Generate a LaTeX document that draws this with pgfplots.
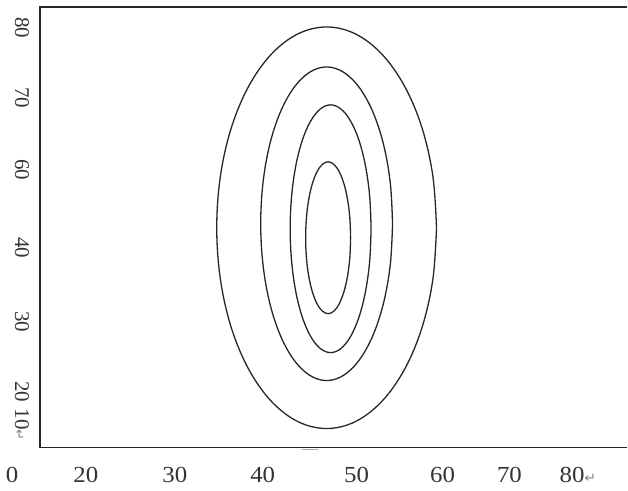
\documentclass[border=0pt]{standalone}
\usepackage{pgfplots}
\pgfplotsset{compat=1.18}
\usepackage{fontspec}
\setmainfont{Liberation Serif}
\newfontfamily\dejavu{DejaVu Sans}
\newcommand{\ret}{{\dejavu\fontsize{13}{13}\selectfont\color{gray}↵}}
\begin{document}
\begin{tikzpicture}
\begin{axis}[
  x=1pt, y=1pt,
  xmin=40, xmax=628, ymin=43, ymax=484,
  axis line style={draw=none},
  xtick=\empty, ytick=\empty,
  clip=false,
  scale only axis,
]
% frame (left, top, bottom)
\draw[line width=1.4pt, black!85] (axis cs:628,484) -- (axis cs:40,484) -- (axis cs:40,43) -- (axis cs:628,43);
\draw[line width=1pt, black!35] (axis cs:302,41) -- (axis cs:318,41);
\path (axis cs:0,0) rectangle (axis cs:628,491);

% ellipse 1
\addplot[black!85, line width=1.3pt, smooth, tension=0.6] coordinates {
(437,263) (433.3,315.0) (422.3,363.5) (404.8,405.1) (382,437.1) (355.5,457.2)
(327,464) (298.5,457.2) (272,437.1) (249.2,405.1) (231.7,363.5) (220.7,315.0)
(217,263) (220.7,211.0) (231.7,162.5) (249.2,120.9) (272,88.9) (298.5,68.8)
(327,62) (355.5,68.8) (382,88.9) (404.8,120.9) (422.3,162.5) (433.3,211.0) (437,263)
};
% ellipse 2
\addplot[black!85, line width=1.3pt, smooth, tension=0.6] coordinates {
(393,267) (390.75,307.63) (384.16,345.5) (373.67,378.0) (360,402.96) (344.08,418.65)
(327,424) (309.92,418.65) (294,402.96) (280.33,378.0) (269.84,345.5) (263.25,307.63)
(261,267) (263.25,226.37) (269.84,188.5) (280.33,156.0) (294,131.04) (309.92,115.35)
(327,110) (344.08,115.35) (360,131.04) (373.67,156.0) (384.16,188.5) (390.75,226.37) (393,267)
};
% ellipse 3
\addplot[black!85, line width=1.3pt, smooth, tension=0.6] coordinates {
(371.5,262) (370.12,294.09) (366.07,324) (359.64,349.68) (351.25,369.38) (341.48,381.77)
(331,386) (320.52,381.77) (310.75,369.38) (302.36,349.68) (295.93,324) (291.88,294.09)
(290.5,262) (291.88,229.91) (295.93,200) (302.36,174.32) (310.75,154.62) (320.52,142.23)
(331,138) (341.48,142.23) (351.25,154.62) (359.64,174.32) (366.07,200) (370.12,229.91) (371.5,262)
};
% ellipse 4
\addplot[black!85, line width=1.3pt, smooth, tension=0.6] coordinates {
(351,253) (350.23,272.67) (347.99,291) (344.41,306.74) (339.75,318.82) (334.32,326.41)
(328.5,329) (322.68,326.41) (317.25,318.82) (312.59,306.74) (309.01,291) (306.77,272.67)
(306,253) (306.77,233.33) (309.01,215) (312.59,199.26) (317.25,187.18) (322.68,179.59)
(328.5,177) (334.32,179.59) (339.75,187.18) (344.41,199.26) (347.99,215) (350.23,233.33) (351,253)
};

% x labels
\begin{scope}[every node/.style={font=\fontsize{23}{26}\selectfont, text=black!80, inner sep=0pt, xscale=1.08}]
\node at (axis cs:12,16) {0};
\node at (axis cs:86,16) {20};
\node at (axis cs:175,16) {30};
\node at (axis cs:263,16) {40};
\node at (axis cs:357,16) {50};
\node at (axis cs:443,16) {60};
\node at (axis cs:510,16) {70};
\node[anchor=west] at (axis cs:560,16) {80\ret};
\end{scope}
% y labels
\begin{scope}[every node/.style={font=\fontsize{21}{24}\selectfont, text=black!80, inner sep=0pt, rotate=-90}]
\node at (axis cs:22,463) {80};
\node at (axis cs:22,393) {70};
\node at (axis cs:22,321) {60};
\node at (axis cs:22,243) {40};
\node at (axis cs:22,169) {30};
\node at (axis cs:22,99) {20};
\node[anchor=west] at (axis cs:22,82) {10\ret};
\end{scope}
\end{axis}
\end{tikzpicture}
\end{document}
